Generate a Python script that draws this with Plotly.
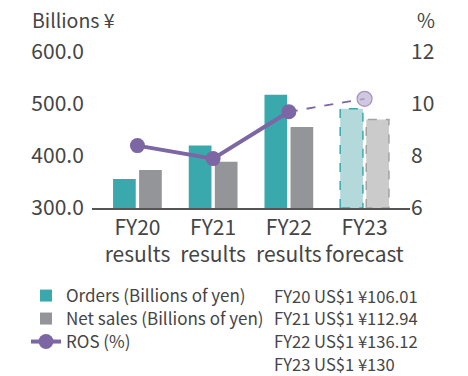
import plotly.graph_objects as go

# Fiscal years and their label suffix
years = ["FY20", "FY21", "FY22", "FY23"]
stages = ["results", "results", "results", "forecast"]

# Billions of yen
orders = [356, 420, 518, 491]
net_sales = [373, 389, 456, 470]

# Return on sales (%)
ros = [8.4, 7.9, 9.7, 10.2]

# Exchange rates used for each year
fx_rates = ["106.01", "112.94", "136.12", "130"]

FONT = "Noto Sans CJK JP"
TEXT = "#454545"
TEAL = "#3aa9ad"
TEAL_LIGHT = "#b3d9db"
GREY = "#939598"
GREY_LIGHT = "#cbcbcb"
PURPLE = "#7d66a4"
PURPLE_LIGHT = "#bcb2d3"

BAR_W = 0.30
OFF_ORDERS = -0.322
OFF_SALES = 0.022

# plot area in pixels (used to place items outside the axes)
L, R, T, B = 92, 410, 52, 208
W, H = 468, 376


def px_x(px):
    return (px - L) / (R - L)


def px_y(py):
    return (B - py) / (B - T)


xs = list(range(len(years)))
n_res = stages.count("results")
fc = len(years) - 1

fig = go.Figure()

fig.add_trace(go.Bar(
    x=xs, y=orders, name="Orders (Billions of yen)", legend="legend",
    width=BAR_W, offset=OFF_ORDERS,
    marker=dict(color=[TEAL] * n_res + [TEAL_LIGHT], line=dict(width=0)),
))
fig.add_trace(go.Bar(
    x=xs, y=net_sales, name="Net sales (Billions of yen)", legend="legend2",
    width=BAR_W, offset=OFF_SALES,
    marker=dict(color=[GREY] * n_res + [GREY_LIGHT], line=dict(width=0)),
))

# dashed outlines for the forecast bars
y_base = 300
for vals, off, col in [(orders, OFF_ORDERS, TEAL), (net_sales, OFF_SALES, "#a3a3a3")]:
    x0 = fc + off
    x1 = x0 + BAR_W
    v = vals[fc]
    fig.add_trace(go.Scatter(
        x=[x0, x0, x1, x1, x0], y=[y_base, v, v, y_base, y_base],
        mode="lines", line=dict(color=col, width=1.5, dash="dash"),
        showlegend=False, hoverinfo="skip", cliponaxis=False,
    ))

# ROS: dashed forecast segment, then solid results
fig.add_trace(go.Scatter(
    x=xs[n_res - 1:], y=ros[n_res - 1:], yaxis="y2",
    mode="lines+markers",
    line=dict(color=PURPLE, width=1.8, dash="dash"),
    marker=dict(size=[0, 15], color=PURPLE_LIGHT,
                line=dict(color=PURPLE, width=1.2)),
    showlegend=False, hoverinfo="skip",
))
fig.add_trace(go.Scatter(
    x=xs[:n_res], y=ros[:n_res], yaxis="y2", name="ROS (%)", legend="legend3",
    mode="lines+markers",
    line=dict(color=PURPLE, width=4),
    marker=dict(size=15, color=PURPLE),
))

tick_text = [f"{y}<br>{s}" for y, s in zip(years, stages)]

leg_common = dict(
    x=px_x(26), xanchor="left", yanchor="middle",
    font=dict(size=17, color=TEXT), bgcolor="rgba(0,0,0,0)", itemwidth=30,
)

fig.update_layout(
    width=W, height=H,
    margin=dict(l=L, r=W - R, t=T, b=H - B, autoexpand=False),
    paper_bgcolor="white", plot_bgcolor="white",
    font=dict(family=FONT, color=TEXT),
    barmode="overlay",
    xaxis=dict(
        range=[-0.6, 3.6], tickvals=xs, ticktext=tick_text,
        tickfont=dict(size=21), showgrid=False, zeroline=False,
        showline=True, linecolor="#555555", linewidth=1.5, ticks="",
    ),
    yaxis=dict(
        range=[300, 600], tickvals=[300, 400, 500, 600], tickformat=".1f",
        tickfont=dict(size=21), showgrid=False, zeroline=False,
        ticks="outside", ticklen=3, tickcolor="rgba(0,0,0,0)",
    ),
    yaxis2=dict(
        range=[6, 12], tickvals=[6, 8, 10, 12], overlaying="y", side="right",
        tickfont=dict(size=21), showgrid=False, zeroline=False, ticks="",
    ),
    legend=dict(y=px_y(296), **leg_common),
    legend2=dict(y=px_y(319), **leg_common),
    legend3=dict(y=px_y(342), **leg_common),
    showlegend=True,
)

fig.add_annotation(
    text="Billions ¥", xref="paper", yref="paper",
    x=px_x(30), y=px_y(19), xanchor="left", yanchor="middle",
    showarrow=False, font=dict(size=19.5, color=TEXT),
)
fig.add_annotation(
    text="%", xref="paper", yref="paper",
    x=px_x(437), y=px_y(19), xanchor="right", yanchor="middle",
    showarrow=False, font=dict(size=19.5, color=TEXT),
)
# exchange-rate notes, one line each
for i, (yr, rate) in enumerate(zip(years, fx_rates)):
    fig.add_annotation(
        text=f"{yr} US$1 ¥{rate}", xref="paper", yref="paper",
        x=px_x(273), y=px_y(295.5 + 22.9 * i), xanchor="left", yanchor="middle",
        showarrow=False, borderpad=0, font=dict(size=16.6, color=TEXT),
    )

fig.write_html("out.html")
